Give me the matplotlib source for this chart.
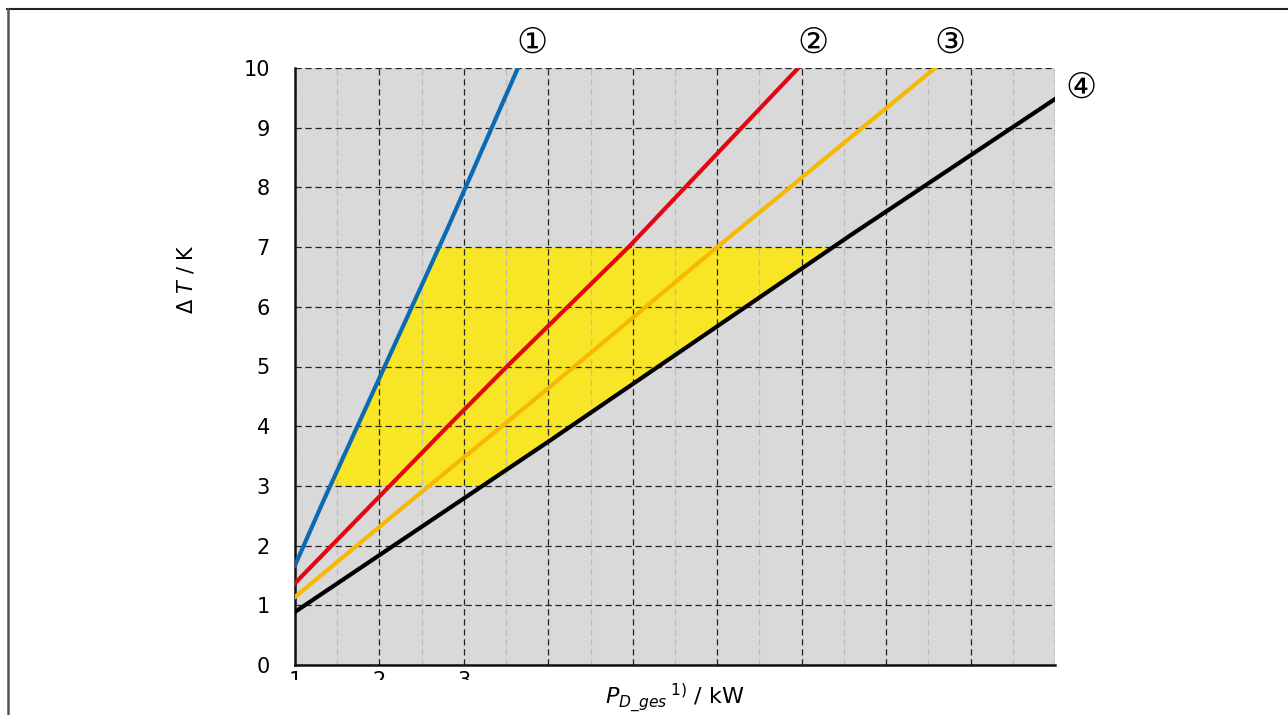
import numpy as np
import matplotlib
matplotlib.use("Agg")
import matplotlib.pyplot as plt
from matplotlib.lines import Line2D
from matplotlib.patches import Rectangle

plt.rcParams['font.family'] = ['DejaVu Sans']
plt.rcParams['mathtext.fontset'] = 'dejavusans'

# curves: P_D_ges (kW) -> Delta T (K)
p1 = [1.0, 1.34, 2.8, 3.64]
t1 = [1.67, 2.76, 7.29, 10.0]
p2 = [1.0, 2.81, 3.51, 4.95, 6.96]
t2 = [1.37, 4.0, 5.0, 7.0, 10.0]
p3 = [1.0, 2.38, 4.02, 6.0, 8.58]
t3 = [1.14, 2.76, 4.66, 7.0, 10.0]
p4 = [1.0, 4.02, 7.58, 10.0]
t4 = [0.89, 3.76, 7.2, 9.48]

band_low, band_high = 3, 7
x_ticks = [1, 2, 3]
y_ticks = list(range(0, 11))
tags = ["①", "②", "③", "④"]
tag_pos = [(3.81, 10.42), (7.13, 10.42), (8.76, 10.42), (10.31, 9.67)]

colors = ["#0A6AB4", "#E30613", "#F6B800", "#000000"]

fig = plt.figure(figsize=(12.88, 7.15), dpi=100)
ax = fig.add_axes([295 / 1288, 50 / 715, 760 / 1288, 597 / 715])
ax.set_facecolor("#D9D9D9")

# yellow operating band between curve 1 and curve 4
xb_lo = np.interp(band_low, t1, p1)
xb_hi = np.interp(band_high, t1, p1)
xk_lo = np.interp(band_low, t4, p4)
xk_hi = np.interp(band_high, t4, p4)
ax.fill([xb_lo, xk_lo, xk_hi, xb_hi], [band_low, band_low, band_high, band_high],
        color="#F8E526", lw=0, zorder=1)

for p, t, c in zip([p1, p2, p3, p4], [t1, t2, t3, t4], colors):
    ax.plot(p, t, color=c, lw=3.0, zorder=3)

for s, (x, y) in zip(tags, tag_pos):
    ax.text(x, y, s, fontsize=25, ha="center", va="center", clip_on=False)

ax.set_xlim(1, 10)
ax.set_ylim(0, 10)
ax.set_xticks(np.arange(1, 11))
ax.set_xticks(np.arange(1.5, 10, 1), minor=True)
ax.set_xticklabels([str(v) if v in x_ticks else "" for v in range(1, 11)])
ax.set_yticks(y_ticks)
ax.tick_params(axis="both", which="both", length=0, labelsize=15)
ax.tick_params(axis="x", pad=4)
ax.tick_params(axis="y", pad=18)

ax.grid(True, which="major", color="#222222", linestyle=(0, (5, 3)), lw=0.9, zorder=2)
ax.grid(True, which="minor", axis="x", color="#BBBBBB", linestyle=(0, (5, 3)), lw=0.9, zorder=2)

for side in ["top", "right"]:
    ax.spines[side].set_visible(False)
for side in ["left", "bottom"]:
    ax.spines[side].set_linewidth(1.8)
    ax.spines[side].set_color("#111111")

ax.set_xlabel(r"$P_{D\_ges}\,{}^{\mathrm{1)}}$ / kW", fontsize=16)
ax.xaxis.set_label_coords(0.5, -0.027)
ax.set_ylabel(r"Δ $T$ / K", fontsize=15)
ax.yaxis.set_label_coords(-0.129, 0.647)

# the x tick labels are cut off in the original
fig.add_artist(Rectangle((280 / 1288, 1 - 687 / 715), 230 / 1288, 7 / 715,
                         transform=fig.transFigure, facecolor="white",
                         edgecolor="none", zorder=10))

# frame lines of the figure
fig.add_artist(Line2D([7 / 1288, 1], [1 - 9 / 715, 1 - 9 / 715],
                      transform=fig.transFigure, color="#222222", lw=1.5))
fig.add_artist(Line2D([7.5 / 1288, 7.5 / 1288], [0, 1 - 9 / 715],
                      transform=fig.transFigure, color="#555555", lw=1.8))

fig.savefig("out.png", dpi=100)
plt.close()
